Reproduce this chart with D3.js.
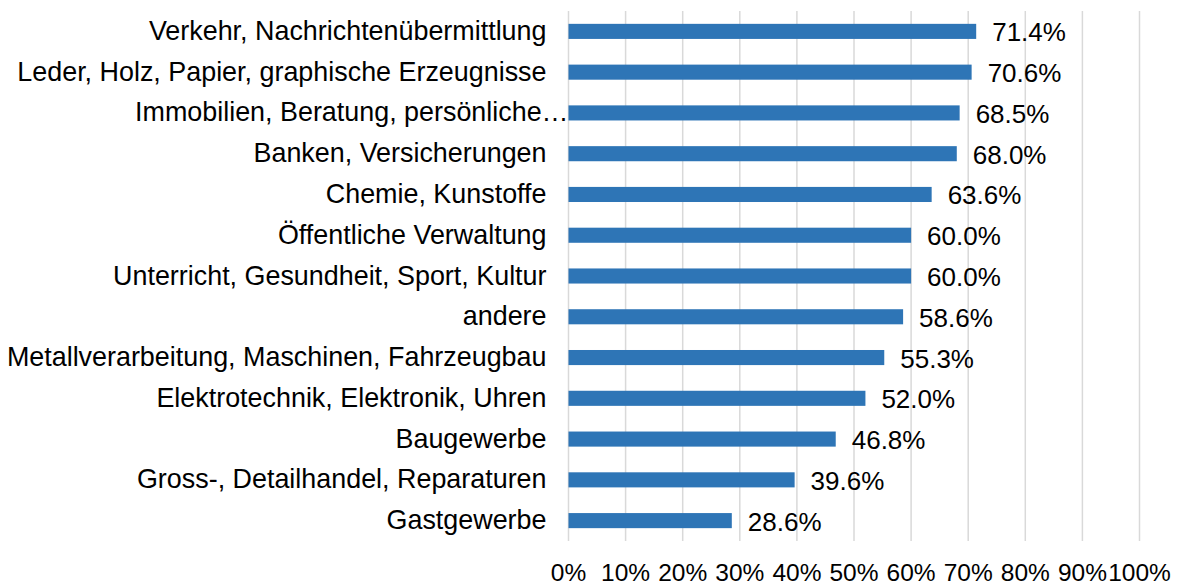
<!DOCTYPE html>
<html>
<head>
<meta charset="utf-8">
<script src="https://cdn.jsdelivr.net/npm/d3@7"></script>
<style>
  body { margin: 0; background: #fff; }
  text { font-family: "Liberation Sans", Arial, sans-serif; fill: #000; }
</style>
</head>
<body>
<div class="graph"></div>
<script>
// categories top to bottom, values in percent
const categories = [
  "Verkehr, Nachrichtenübermittlung",
  "Leder, Holz, Papier, graphische Erzeugnisse",
  "Immobilien, Beratung, persönliche…",
  "Banken, Versicherungen",
  "Chemie, Kunstoffe",
  "Öffentliche Verwaltung",
  "Unterricht, Gesundheit, Sport, Kultur",
  "andere",
  "Metallverarbeitung, Maschinen, Fahrzeugbau",
  "Elektrotechnik, Elektronik, Uhren",
  "Baugewerbe",
  "Gross-, Detailhandel, Reparaturen",
  "Gastgewerbe"
];
const values = [71.4, 70.6, 68.5, 68.0, 63.6, 60.0, 60.0, 58.6, 55.3, 52.0, 46.8, 39.6, 28.6];
const ticks = [0, 10, 20, 30, 40, 50, 60, 70, 80, 90, 100];

// layout
var margin = {top: 11, right: 40, bottom: 45, left: 568.5},
    width = 1180 - margin.left - margin.right,
    height = 586 - margin.top - margin.bottom;

var svg = d3.select(".graph")
  .append("svg")
    .attr("width", 1180)
    .attr("height", 586)
  .append("g")
    .attr("transform", "translate(" + margin.left + "," + margin.top + ")");

var x = d3.scaleLinear()
  .domain([0, 100])
  .range([0, 571]);

var y = d3.scaleBand()
  .domain(categories)
  .range([0, 530])
  .paddingInner(0.63)
  .paddingOuter(0.315);

// gridlines
svg.selectAll(".grid")
  .data(ticks)
  .enter()
  .append("line")
    .attr("x1", d => x(d))
    .attr("x2", d => x(d))
    .attr("y1", 0)
    .attr("y2", 530)
    .attr("stroke", "#d9d9d9")
    .attr("stroke-width", 1.5);

// x tick labels
svg.selectAll(".tick-label")
  .data(ticks)
  .enter()
  .append("text")
    .attr("x", d => x(d))
    .attr("y", 580.5 - margin.top)
    .attr("text-anchor", "middle")
    .style("font-size", "24.5px")
    .text(d => d + "%");

// bars
svg.selectAll(".bar")
  .data(values)
  .enter()
  .append("rect")
    .attr("x", x(0))
    .attr("y", (d, i) => y(categories[i]))
    .attr("width", d => x(d) - x(0))
    .attr("height", y.bandwidth())
    .attr("fill", "#2e75b6");

// value labels
svg.selectAll(".value")
  .data(values)
  .enter()
  .append("text")
    .attr("x", d => x(d) + 16)
    .attr("y", (d, i) => y(categories[i]) + y.bandwidth() / 2 + 10)
    .style("font-size", "26px")
    .text(d => d.toFixed(1) + "%");

// category labels, truncated one runs up to the axis like in excel
svg.selectAll(".cat")
  .data(categories)
  .enter()
  .append("text")
    .attr("x", d => d.endsWith("…") ? x(0) : x(0) - 22)
    .attr("y", d => y(d) + y.bandwidth() / 2 + 8.5)
    .attr("text-anchor", "end")
    .style("font-size", "26.9px")
    .text(d => d);
</script>
</body>
</html>
